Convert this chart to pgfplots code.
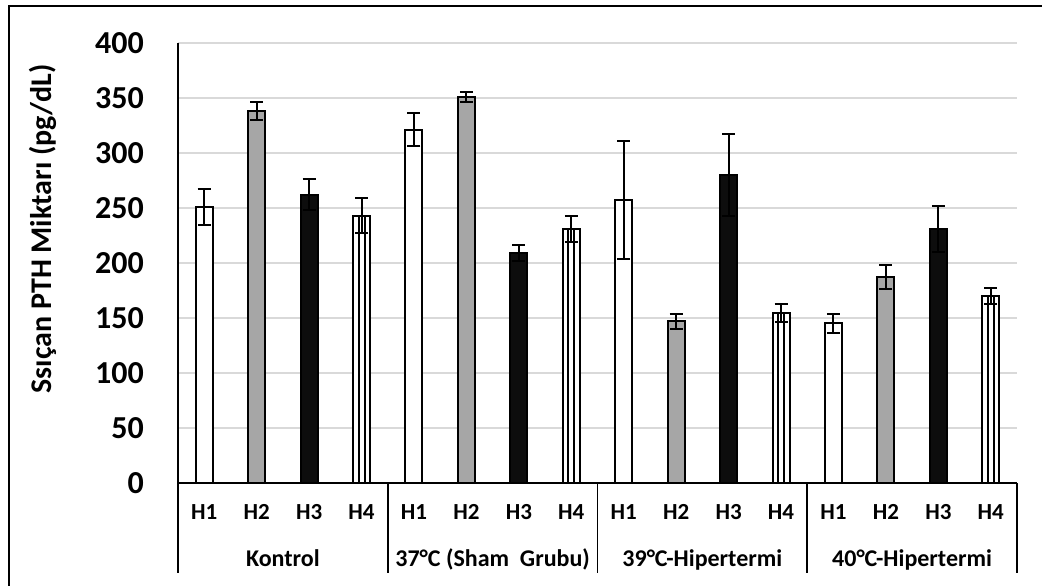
\documentclass[border=0pt]{standalone}
\usepackage{fontspec}
\setmainfont{Carlito}
\usepackage{pgfplots}
\pgfplotsset{compat=1.18}
\definecolor{gridgray}{HTML}{D9D9D9}
\definecolor{bargray}{HTML}{A6A6A6}
\definecolor{barblack}{HTML}{0D0D0D}
\pgfplotsset{myerr/.style={error bars/.cd, y dir=both, y explicit,
  error bar style={line width=2pt,black},
  error mark options={rotate=90,mark size=6.5pt,line width=2pt,black}}}
\begin{document}
\begin{tikzpicture}
\useasboundingbox (0,0) rectangle (1042pt,586pt);
\fill[white] (0,0) rectangle (1042pt,586pt);
\draw[line width=2pt] (9pt,0) -- (9pt,580pt) -- (1042pt,580pt);
\begin{axis}[
 at={(178pt,103pt)}, anchor=south west,
 scale only axis, width=839pt, height=440pt,
 xmin=-0.5, xmax=15.5, ymin=0, ymax=400,
 ytick={0,50,...,400},
 xtick={0,...,15},
 xticklabels={H1,H2,H3,H4,H1,H2,H3,H4,H1,H2,H3,H4,H1,H2,H3,H4},
 axis x line*=bottom, axis y line*=left,
 axis line style={line width=1.8pt, black},
 major tick length=0pt,
 ymajorgrids, grid style={line width=1.6pt, gridgray},
 /pgf/number format/assume math mode=true,
 yticklabel style={font=\fontsize{32}{32}\selectfont\bfseries, anchor=east, inner sep=0pt, xshift=-34pt},
 xticklabel style={font=\fontsize{23}{23}\selectfont\bfseries, anchor=base, inner sep=0pt, yshift=-37pt},
 ylabel={Ssıçan PTH Miktarı (pg/dL)},
 ylabel style={font=\fontsize{30}{30}\selectfont\bfseries, at={(axis description cs:-0.1609,0.578)}, anchor=center},
 clip=false,
 ybar, bar width=17pt, bar shift=0pt,
]
% H1
\addplot[draw=black, line width=2pt, fill=white, myerr] coordinates {
 (0,251) +- (0,16.5)
 (4,321) +- (0,15)
 (8,257) +- (0,53.5)
 (12,145) +- (0,9)
};
% H2
\addplot[draw=black, line width=2pt, fill=bargray, myerr] coordinates {
 (1,338) +- (0,8)
 (5,351) +- (0,4.5)
 (9,147) +- (0,7)
 (13,187) +- (0,11)
};
% H3
\addplot[draw=black, line width=2pt, fill=barblack, myerr] coordinates {
 (2,262) +- (0,14)
 (6,209) +- (0,7)
 (10,280) +- (0,37.5)
 (14,231) +- (0,21)
};
% H4 outer
\addplot[draw=black, line width=2pt, fill=white] coordinates {
 (3,243) (7,231) (11,154.5) (15,170)
};
% H4 inner stripes
\addplot[draw=black, line width=2pt, fill=none, bar width=6pt, myerr] coordinates {
 (3,243) +- (0,16)
 (7,231) +- (0,11.5)
 (11,154.5) +- (0,8)
 (15,170) +- (0,7.5)
};
\draw[line width=1.8pt] (axis cs:-0.5,0) -- ([yshift=-90pt]axis cs:-0.5,0);
\draw[line width=1.8pt] (axis cs:3.5,0) -- ([yshift=-90pt]axis cs:3.5,0);
\draw[line width=1.8pt] (axis cs:7.5,0) -- ([yshift=-90pt]axis cs:7.5,0);
\draw[line width=1.8pt] (axis cs:11.5,0) -- ([yshift=-90pt]axis cs:11.5,0);
\draw[line width=1.8pt] (axis cs:15.5,0) -- ([yshift=-90pt]axis cs:15.5,0);
\node[font=\fontsize{24}{24}\selectfont\bfseries, anchor=base] at ([yshift=-84pt]axis cs:1.5,0) {Kontrol};
\node[font=\fontsize{24}{24}\selectfont\bfseries, anchor=base] at ([yshift=-84pt]axis cs:5.5,0) {37°C (Sham\ \ Grubu)};
\node[font=\fontsize{24}{24}\selectfont\bfseries, anchor=base] at ([yshift=-84pt]axis cs:9.5,0) {39°C-Hipertermi};
\node[font=\fontsize{24}{24}\selectfont\bfseries, anchor=base] at ([yshift=-84pt]axis cs:13.5,0) {40°C-Hipertermi};
\end{axis}
\end{tikzpicture}
\end{document}
